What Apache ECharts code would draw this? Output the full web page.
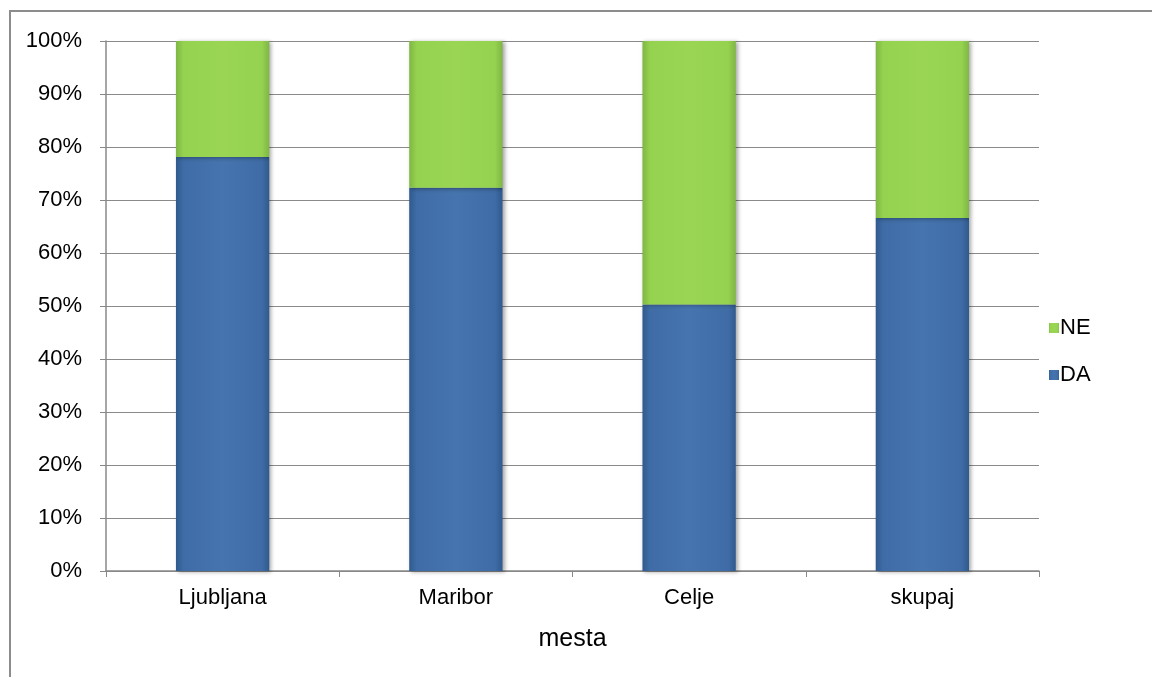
<!DOCTYPE html>
<html><head><meta charset="utf-8">
<script src="https://cdn.jsdelivr.net/npm/echarts@6/dist/echarts.min.js"></script>
<style>html,body{margin:0;padding:0;background:#fff}#c{width:1152px;height:677px}</style>
</head><body><div id="c"></div>
<script>
const categories = ['Ljubljana', 'Maribor', 'Celje', 'skupaj'];
const daValues = [78.1, 72.3, 50.3, 66.6];
const neValues = [21.9, 27.7, 49.7, 33.4];
const yTicks = [0, 10, 20, 30, 40, 50, 60, 70, 80, 90, 100];

const FONT = '"Liberation Sans", Arial, sans-serif';
const chart = echarts.init(document.getElementById('c'));
function grad(dark, main, light) {
  return new echarts.graphic.LinearGradient(0, 0, 1, 0, [
    {offset: 0, color: dark}, {offset: 0.08, color: main},
    {offset: 0.5, color: light}, {offset: 0.92, color: main}, {offset: 1, color: dark}
  ]);
}
const itemShadow = {shadowColor: 'rgba(0,0,0,0.35)', shadowBlur: 4, shadowOffsetX: 2, shadowOffsetY: 1};
chart.setOption({
  animation: false,
  backgroundColor: '#fff',
  graphic: [{type: 'rect', shape: {x: 10, y: 11, width: 1200, height: 700},
    style: {fill: 'none', stroke: '#8c8c8c', lineWidth: 2}, z: -1}],
  grid: {left: 106, right: 113, top: 41, bottom: 106},
  legend: {
    data: ['NE', 'DA'], orient: 'vertical', left: 1044, top: 312, itemGap: 25,
    itemWidth: 10, itemHeight: 10, icon: 'rect',
    textStyle: {fontFamily: FONT, fontSize: 22, color: '#000', padding: [0, 0, 0, -4]}
  },
  xAxis: {
    type: 'category', data: categories, name: 'mesta', nameLocation: 'middle', nameGap: 56,
    nameTextStyle: {fontFamily: FONT, fontSize: 25, color: '#000'},
    axisLine: {lineStyle: {color: '#888', width: 1.5}},
    axisTick: {show: true, length: 6, lineStyle: {color: '#888'}},
    axisLabel: {fontFamily: FONT, fontSize: 22, color: '#000', margin: 16}
  },
  yAxis: {
    type: 'value', min: 0, max: 100, interval: 10,
    axisLine: {show: true, lineStyle: {color: '#888', width: 1.5}},
    axisTick: {show: true, length: 6, lineStyle: {color: '#888'}},
    splitLine: {lineStyle: {color: '#8a8a8a', width: 1.2}},
    axisLabel: {fontFamily: FONT, fontSize: 22, color: '#000', margin: 24,
      formatter: v => yTicks.includes(v) ? v + '%' : ''}
  },
  series: [
    {name: 'DA', type: 'bar', stack: 's', data: daValues, barWidth: '40%',
      color: '#4270aa',
      itemStyle: Object.assign({color: grad('#2f5a8e', '#3f6ca6', '#4674ae')}, itemShadow)},
    {name: 'NE', type: 'bar', stack: 's', data: neValues, barWidth: '40%',
      color: '#92d050',
      itemStyle: Object.assign({color: grad('#7fb644', '#94d24f', '#9ad654')}, itemShadow)}
  ]
});
</script></body></html>
